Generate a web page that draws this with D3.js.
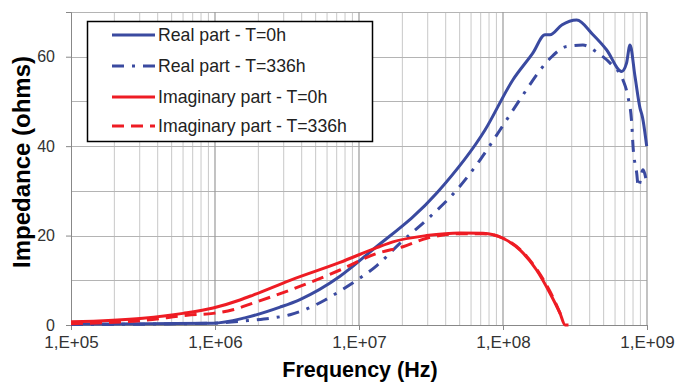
<!DOCTYPE html>
<html><head><meta charset="utf-8">
<script src="https://cdn.jsdelivr.net/npm/d3@7"></script>
<style>
html,body{margin:0;padding:0;background:#fff;}
svg{display:block;font-family:"Liberation Sans",Arial,sans-serif;}
</style></head>
<body><svg id="c" width="677" height="383"></svg>
<script>
// ---- data ----
const seriesNames = ["Real part - T=0h","Real part - T=336h","Imaginary part - T=0h","Imaginary part - T=336h"];
const xTickLabels = ["1,E+05","1,E+06","1,E+07","1,E+08","1,E+09"];
const yTickLabels = ["0","20","40","60"];

const realT0Freq = [1e5,3.5e5,9.7e5,1.61e6,2.83e6,3.89e6,7.38e6,1.19e7,3.47e7,7.5e7,1.17e8,1.61e8,1.96e8,2.12e8,2.56e8,3.25e8,4.22e8,5.25e8,6.67e8,7.2e8,7.62e8,8.26e8,8.94e8,9.3e8,9.95e8];
const realT0Val  = [0.2,0.3,0.4,1.6,4.0,5.7,10.9,16.3,29.5,43.6,54.8,60.8,64.9,64.9,67.1,68.2,64.9,61.5,56.7,58.5,62.6,55.5,48.5,46.5,40];

const realT336Freq = [1e5,3.5e5,9.7e5,1.84e6,2.41e6,3.32e6,4.57e6,5.81e6,7.38e6,9.64e6,1.33e7,1.93e7,3.11e7,4.77e7,6.92e7,9.53e7,1.38e8,1.81e8,2.18e8,2.77e8,3.59e8,4.57e8,5.69e8,6.81e8,7.38e8,7.83e8,8.0e8,8.48e8,8.71e8,9.38e8,9.95e8];
const realT336Val  = [0.1,0.2,0.4,1.1,1.5,2.3,3.9,5.6,7.6,10,13.3,18.3,24.2,30.2,36.9,43.6,51.5,57,60,62.3,62.6,60.8,58.2,54.8,51,45.2,39.9,34,30.9,34.7,31.8];

const imagT0Freq = [1e5,3.16e5,6.0e5,9.7e5,1.49e6,1.84e6,3.32e6,7.38e6,1.33e7,1.72e7,2.95e7,5.02e7,7.26e7,1.0e8,1.31e8,1.71e8,2.12e8,2.49e8,2.70e8,2.85e8];
const imagT0Val  = [0.7,1.5,2.6,3.8,5.6,6.7,10,14,17.3,18.6,20,20.6,20.5,19.4,16.8,12.3,7.1,2.6,0,0];

const imagT336Freq = [1e5,3.37e5,6.4e5,9.7e5,1.33e6,1.84e6,3.32e6,7.38e6,1.33e7,2.02e7,2.95e7,5.02e7,7.26e7,1.0e8,1.31e8,1.71e8,2.12e8,2.52e8];
const imagT336Val  = [0.3,1.1,2.2,2.6,3.4,4.9,7.8,12.3,16,17.5,19.4,20.4,20.4,19.4,16.9,12.5,7.5,2.3];

// ---- layout ----
const svg = d3.select("#c");
const L = 71, R = 647, T = 12, B = 325;
const x = d3.scaleLog().domain([1e5,1e9]).range([L,R]);
const y = d3.scaleLinear().domain([0,70]).range([B,T]);
const blue = "#3a4aa0", red = "#ee1c24";
const FONT = "Liberation Sans, Arial, sans-serif";

// grid
const g = svg.append("g");
const minorX = [];
for (let k=5;k<9;k++) for (let m=2;m<=9;m++) minorX.push(m*Math.pow(10,k));
g.selectAll(".mx").data(minorX).join("line")
  .attr("x1",d=>x(d)).attr("x2",d=>x(d)).attr("y1",T).attr("y2",B)
  .attr("stroke","#c8c8c8").attr("stroke-width",1);
const yGrid = d3.range(10,71,10);
g.selectAll(".gy").data(yGrid).join("line")
  .attr("x1",L).attr("x2",R).attr("y1",d=>Math.round(y(d))+0.5).attr("y2",d=>Math.round(y(d))+0.5)
  .attr("stroke","#b4b4b4").attr("stroke-width",1);
const decades = [1e5,1e6,1e7,1e8,1e9];
g.selectAll(".dx").data(decades.slice(1)).join("line")
  .attr("x1",d=>x(d)).attr("x2",d=>x(d)).attr("y1",T).attr("y2",B)
  .attr("stroke","#9a9a9a").attr("stroke-width",1.2);

// axes
const xAxis = d3.axisBottom(x).tickValues(decades).tickFormat((d,i)=>xTickLabels[i]).tickSize(5).tickPadding(6);
const ax = svg.append("g").attr("transform",`translate(0,${B})`).call(xAxis);
ax.select(".domain").attr("stroke","#888");
ax.selectAll(".tick line").attr("stroke","#888");
ax.selectAll("text").attr("font-size",17).attr("fill","#333").attr("font-family",FONT);

const yAxis = d3.axisLeft(y).tickValues([0,20,40,60]).tickFormat((d,i)=>yTickLabels[i]).tickSize(5).tickPadding(11);
const ay = svg.append("g").attr("transform",`translate(${L},0)`).call(yAxis);
ay.select(".domain").attr("stroke","#888");
ay.selectAll(".tick line").attr("stroke","#888");
ay.selectAll("text").attr("font-size",16).attr("fill","#333").attr("font-family",FONT);

// lines
const series = [
  {f:realT0Freq, v:realT0Val, color:blue, dash:null},
  {f:realT336Freq, v:realT336Val, color:blue, dash:"12,8,3,8"},
  {f:imagT0Freq, v:imagT0Val, color:red, dash:null},
  {f:imagT336Freq, v:imagT336Val, color:red, dash:"12,7"}
];
const line = d3.line().x(d=>x(d[0])).y(d=>y(d[1])).curve(d3.curveMonotoneX);
const plot = svg.append("g");
series.forEach(s=>{
  plot.append("path").datum(s.f.map((f,i)=>[f,s.v[i]]))
    .attr("d",line).attr("fill","none").attr("stroke",s.color)
    .attr("stroke-width",3).attr("stroke-linejoin","round")
    .attr("stroke-dasharray",s.dash);
});

// legend
const lg = svg.append("g");
lg.append("rect").attr("x",87.5).attr("y",21.5).attr("width",285).attr("height",120)
  .attr("fill","#fff").attr("stroke","#000").attr("stroke-width",1.5);
const rowsY = [35,66,97,126];
series.forEach((s,i)=>{
  lg.append("line").attr("x1",112).attr("x2",155).attr("y1",rowsY[i]).attr("y2",rowsY[i])
    .attr("stroke",s.color).attr("stroke-width",3).attr("stroke-dasharray",s.dash);
  lg.append("text").attr("x",158).attr("y",rowsY[i]).attr("dy","0.35em")
    .attr("font-size",17.7).attr("fill","#222").text(seriesNames[i]);
});

// titles
svg.append("text").attr("x",360).attr("y",377).attr("text-anchor","middle")
  .attr("font-size",21.5).attr("font-weight","bold").attr("fill","#000").text("Frequency (Hz)");
svg.append("text").attr("transform","translate(30,162) rotate(-90)").attr("text-anchor","middle")
  .attr("font-size",24).attr("font-weight","bold").attr("fill","#000").text("Impedance (ohms)");
</script></body></html>
